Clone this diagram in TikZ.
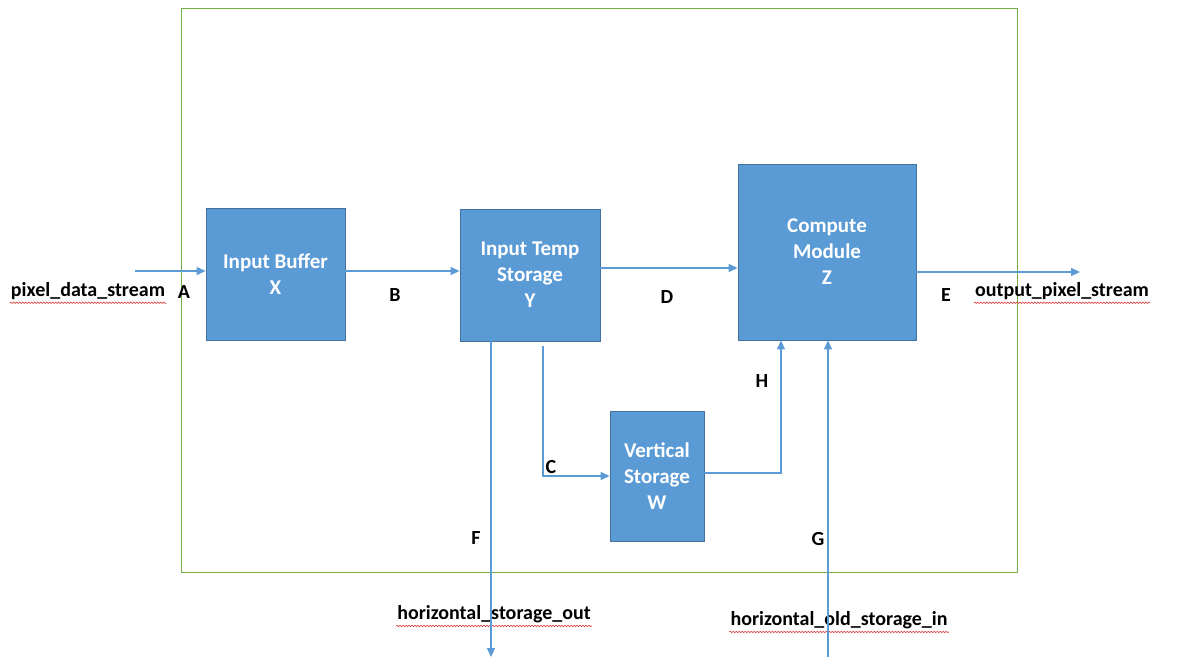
\documentclass[tikz,border=0pt]{standalone}
\usepackage{fontspec}
\setmainfont{Carlito}
\usetikzlibrary{arrows.meta,decorations.pathmorphing}
\definecolor{boxblue}{RGB}{91,155,213}
\definecolor{boxedge}{RGB}{65,113,156}
\definecolor{frameg}{RGB}{112,173,71}
\definecolor{spell}{RGB}{220,60,60}
\tikzset{
  block/.style={draw=boxedge, line width=0.8pt, fill=boxblue, text=white,
    font=\fontsize{21}{26}\selectfont\bfseries, align=center, inner sep=0pt},
  link/.style={draw=boxblue, line width=1.2pt, -{Triangle[length=9pt,width=8pt]}},
  tag/.style={font=\fontsize{20}{22}\selectfont\bfseries, inner sep=0pt},
  port/.style={font=\fontsize{20}{22}\selectfont\bfseries, inner sep=1pt},
  wavy/.style={draw=spell, line width=0.6pt, decorate,
    decoration={snake, segment length=3pt, amplitude=0.7pt}}
}
\begin{document}
\begin{tikzpicture}[x=1pt,y=-1pt]
\useasboundingbox (0,0) rectangle (1178,657);
\fill[white] (0,0) rectangle (1178,657);
% enclosing frame
\draw[frameg, line width=0.8pt] (181,8) rectangle (1017,572);

% processing blocks
\node[block, minimum width=139pt, minimum height=132pt] (X) at (275.5,274) {Input Buffer\\X};
\node[block, minimum width=140pt, minimum height=132pt] (Y) at (530,275) {Input Temp\\Storage\\Y};
\node[block, minimum width=178pt, minimum height=176pt] (Z) at (827,252) {Compute\\Module\\Z};
\node[block, minimum width=94pt, minimum height=130pt] (W) at (657,476) {Vertical\\Storage\\W};

% external ports
\node[port] (pin) at (88,291) {pixel\_data\_stream};
\node[port] (pout) at (1062,291) {output\_pixel\_stream};
\node[port] (hout) at (494,614) {horizontal\_storage\_out};
\node[port] (hin) at (839,620) {horizontal\_old\_storage\_in};
\foreach \p in {pin,pout,hout,hin}
  \draw[wavy] ([yshift=-2pt]\p.south west) -- ([yshift=-2pt]\p.south east);

% free ends of connectors
\coordinate (ain) at (135,271);
\coordinate (eout) at (1080,272);
\coordinate (fend) at (491,657);
\coordinate (gstart) at (828,657);
\coordinate (cstart) at (543,346);

% data paths
\draw[link] (ain) -- (ain -| X.west);
\draw[link] (X.east |- 0,271) -- (Y.west |- 0,271);
\draw[link] (Y.east |- 0,268) -- (Z.west |- 0,268);
\draw[link] (Z.east |- 0,272) -- (eout);
\draw[link] (Y.south -| fend) -- (fend);
\draw[link] (cstart) |- (W.west |- 0,476);
\draw[link] (W.east |- 0,473) -| (Z.south -| 781,0);
\draw[link] (gstart) -- (Z.south -| gstart);

% path labels
\node[tag] (lA) at (184,292) {A};
\node[tag] (lB) at (395,295) {B};
\node[tag] (lD) at (667,297) {D};
\node[tag] (lE) at (946,295) {E};
\node[tag] (lC) at (551,467) {C};
\node[tag] (lH) at (762,381) {H};
\node[tag] (lF) at (476,538) {F};
\node[tag] (lG) at (818,539) {G};
\end{tikzpicture}
\end{document}
